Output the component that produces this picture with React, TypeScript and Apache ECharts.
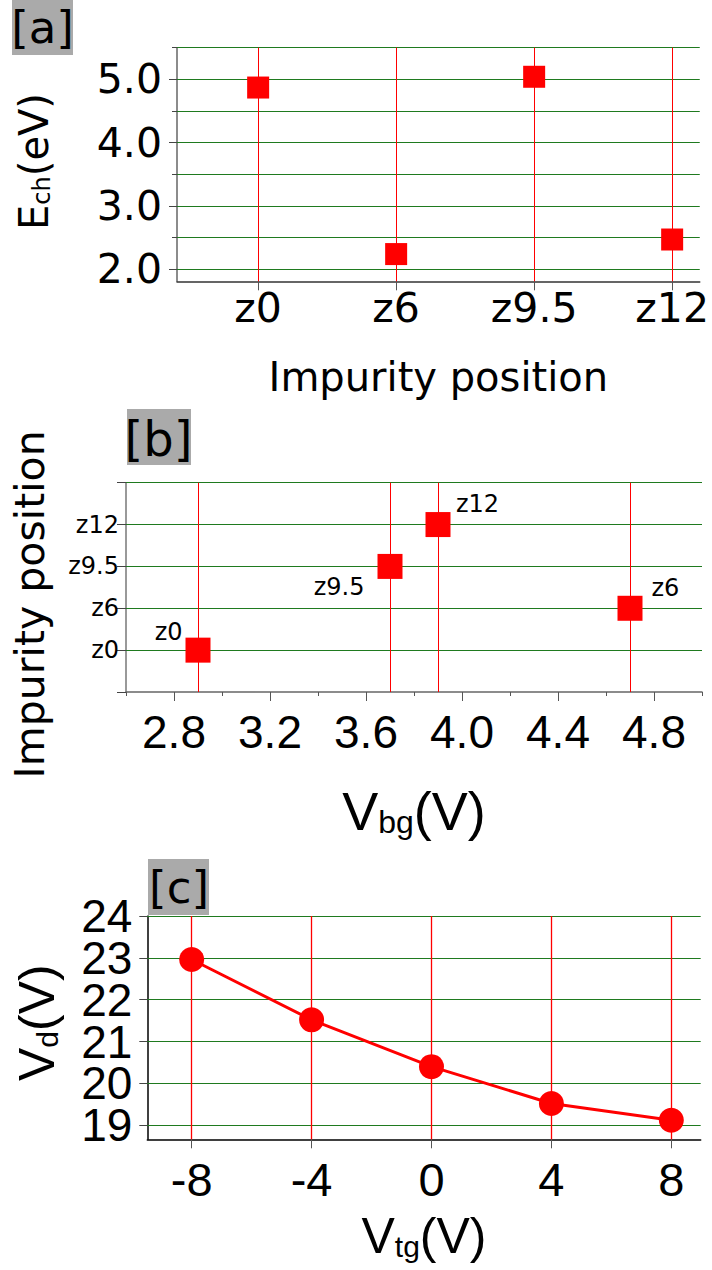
import React, { useEffect, useRef } from 'react';
import * as echarts from 'echarts';

// ---------- data ----------
const positionsA = ['z0', 'z6', 'z9.5', 'z12'];
const energyA = [4.87, 2.24, 5.04, 2.47];
const yTicksA = [2, 3, 4, 5];
const yMinorA = [2.5, 3.5, 4.5, 5.5];

const vbgB = [2.9, 3.7, 3.9, 4.7];
const posLabelB = ['z0', 'z9.5', 'z12', 'z6'];
const xTicksB = [2.8, 3.2, 3.6, 4.0, 4.4, 4.8];
const xMinorB = [2.6, 3.0, 3.4, 3.8, 4.2, 4.6, 5.0];
const yTicksB = [-1, 0, 1, 2, 3, 4];

const vtgC = [-8, -4, 0, 4, 8];
const vdC = [22.96, 21.52, 20.4, 19.52, 19.12];
const yTicksC = [19, 20, 21, 22, 23, 24];

// axis ranges
const xRangeC: [number, number] = [-9.48, 8.98];
const yRangeC: [number, number] = [18.665, 24];

// ---------- styles ----------
const DV = 'DejaVu Sans';
const LS = 'Liberation Sans';
const RED = '#ff0000';
const GREEN = '#1f7a1f';

const labelPlaceB: Record<string, any> = {
  'z0': { position: 'left', distance: 3, offset: [0, -18] },
  'z9.5': { position: 'left', distance: 13, offset: [0, 21] },
  'z12': { position: 'right', distance: 5.5, offset: [0, -21] },
  'z6': { position: 'right', distance: 9, offset: [0, -20] },
};

function gridLines(xi: number, yi: number, hVals: number[], vVals: number[], z = 1, vWidth = 1) {
  return {
    type: 'line',
    xAxisIndex: xi,
    yAxisIndex: yi,
    data: [],
    z,
    silent: true,
    markLine: {
      z,
      silent: true,
      symbol: ['none', 'none'],
      label: { show: false },
      emphasis: { disabled: true },
      data: [
        ...hVals.map((v) => ({ yAxis: v, lineStyle: { color: GREEN, width: 1, type: 'solid' } })),
        ...vVals.map((v) => ({ xAxis: v, lineStyle: { color: RED, width: vWidth, type: 'solid' } })),
      ],
    },
  };
}

function axisLine(color: string) {
  return { show: true, onZero: false, lineStyle: { color, width: 1.5 } };
}
const noLine = { show: false, onZero: false };

function yLabelsC(values: number[]) {
  return {
    gridIndex: 2, type: 'value', min: yRangeC[0], max: yRangeC[1], position: 'left',
    axisLine: noLine,
    axisTick: { show: false },
    axisLabel: {
      customValues: values, formatter: (v: number) => String(v),
      fontFamily: LS, fontSize: 46, color: '#000', margin: 15,
      showMinLabel: true, showMaxLabel: true, hideOverlap: false,
    },
    splitLine: { show: false },
  };
}

export default function App() {
  const ref = useRef<HTMLDivElement>(null);
  useEffect(() => {
    if (!ref.current) return;
    const chart = echarts.init(ref.current, undefined, { renderer: 'svg' });
    const option: any = {
      animation: false,
      backgroundColor: '#ffffff',
      grid: [
        { left: 177, top: 47.65, width: 528, height: 233.65 },
        { left: 126, top: 482.7, width: 576, height: 209.3 },
        { left: 147.3, top: 916, width: 553.4, height: 223.3 },
      ],
      xAxis: [
        {
          gridIndex: 0, type: 'value', min: -0.588, max: 3.2, position: 'bottom',
          axisLine: axisLine('#333'),
          axisTick: { show: true, customValues: [0, 1, 2, 3], length: 9, lineStyle: { color: '#555' } },
          axisLabel: {
            customValues: [0, 1, 2, 3], formatter: (v: number) => positionsA[Math.round(v)],
            fontFamily: DV, fontSize: 41, color: '#000', margin: 6,
            showMinLabel: true, showMaxLabel: true, hideOverlap: false,
          },
          splitLine: { show: false },
          name: 'Impurity position', nameLocation: 'middle', nameGap: 76,
          nameTextStyle: { fontFamily: DV, fontSize: 40, color: '#000', lineHeight: 40 },
        },
        {
          gridIndex: 1, type: 'value', min: 2.6, max: 5.0, position: 'bottom',
          axisLine: axisLine('#666'),
          axisTick: { show: true, customValues: xTicksB, length: 9, lineStyle: { color: '#555' } },
          axisLabel: {
            customValues: xTicksB, formatter: (v: number) => v.toFixed(1),
            fontFamily: LS, fontSize: 46, color: '#000', margin: 17,
            showMinLabel: true, showMaxLabel: true, hideOverlap: false,
          },
          splitLine: { show: false },
          name: '{m|V}{s|bg}{m|(V)}', nameLocation: 'middle', nameGap: 92,
          nameTextStyle: {
            rich: {
              m: { fontFamily: LS, fontSize: 54, lineHeight: 54, color: '#000', verticalAlign: 'top' },
              s: { fontFamily: LS, fontSize: 32, lineHeight: 32, color: '#000', verticalAlign: 'bottom' },
            },
          },
        },
        {
          gridIndex: 1, type: 'value', min: 2.6, max: 5.0, position: 'bottom',
          axisLine: noLine,
          axisTick: { show: true, customValues: xMinorB, length: 4, lineStyle: { color: '#555' } },
          axisLabel: { show: false },
          splitLine: { show: false },
        },
        {
          gridIndex: 2, type: 'value', min: xRangeC[0], max: xRangeC[1], position: 'bottom',
          axisLine: axisLine('#000'),
          axisTick: { show: false },
          axisLabel: {
            customValues: vtgC, formatter: (v: number) => String(v),
            fontFamily: LS, fontSize: 47, color: '#000', margin: 17,
            showMinLabel: true, showMaxLabel: true, hideOverlap: false,
          },
          splitLine: { show: false },
          name: '{m|V}{s|tg}{m|(V)}', nameLocation: 'middle', nameGap: 72,
          nameTextStyle: {
            rich: {
              m: { fontFamily: LS, fontSize: 50, lineHeight: 50, color: '#000', verticalAlign: 'top' },
              s: { fontFamily: LS, fontSize: 30, lineHeight: 30, color: '#000', verticalAlign: 'bottom' },
            },
          },
        },
        {
          gridIndex: 2, type: 'value', min: xRangeC[0], max: xRangeC[1], position: 'bottom',
          axisLine: noLine,
          axisTick: { show: true, customValues: vtgC, length: 9, lineStyle: { color: '#555' } },
          axisLabel: { show: false },
          splitLine: { show: false },
        },
      ],
      yAxis: [
        {
          gridIndex: 0, type: 'value', min: 1.81, max: 5.5, position: 'left',
          axisLine: axisLine('#666'),
          axisTick: { show: true, customValues: yTicksA, length: 8, lineStyle: { color: '#444' } },
          axisLabel: {
            customValues: yTicksA, formatter: (v: number) => v.toFixed(1),
            fontFamily: DV, fontSize: 41, color: '#000', margin: 15,
            showMinLabel: true, showMaxLabel: true, hideOverlap: false,
          },
          splitLine: { show: false },
          name: '{m|E}{s|ch}{m|(eV)}', nameLocation: 'middle', nameGap: 123, nameRotate: 90,
          nameTextStyle: {
            padding: [0, 0, 0, 6],
            rich: {
              m: { fontFamily: DV, fontSize: 40, lineHeight: 40, color: '#000', verticalAlign: 'top' },
              s: { fontFamily: DV, fontSize: 24, lineHeight: 24, color: '#000', verticalAlign: 'bottom', padding: [22, 0, 0, 0] },
            },
          },
        },
        {
          gridIndex: 0, type: 'value', min: 1.81, max: 5.5, position: 'left',
          axisLine: noLine,
          axisTick: { show: true, customValues: yMinorA, length: 5, lineStyle: { color: '#444' } },
          axisLabel: { show: false },
          splitLine: { show: false },
        },
        {
          gridIndex: 1, type: 'value', min: -1, max: 4, position: 'left',
          axisLine: axisLine('#777'),
          axisTick: { show: true, customValues: yTicksB, length: 9, lineStyle: { color: '#444' } },
          axisLabel: {
            customValues: [0, 1, 2, 3], formatter: (v: number) => positionsA[Math.round(v)],
            fontFamily: DV, fontSize: 24, color: '#000', margin: 7,
            showMinLabel: true, showMaxLabel: true, hideOverlap: false,
          },
          splitLine: { show: false },
          name: 'Impurity position', nameLocation: 'middle', nameGap: 76, nameRotate: 90,
          nameTextStyle: { fontFamily: DV, fontSize: 41, lineHeight: 41, color: '#000', padding: [0, 34, 0, 0] },
        },
        {
          gridIndex: 2, type: 'value', min: yRangeC[0], max: yRangeC[1], position: 'left',
          axisLine: axisLine('#000'),
          axisTick: { show: true, customValues: yTicksC, length: 8, lineStyle: { color: '#444' } },
          axisLabel: { show: false },
          splitLine: { show: false },
          name: '{m|V}{s|d}{m|(V)}', nameLocation: 'middle', nameGap: 85, nameRotate: 90,
          nameTextStyle: {
            padding: [0, 0, 0, 10],
            rich: {
              m: { fontFamily: LS, fontSize: 50, lineHeight: 50, color: '#000', verticalAlign: 'top' },
              s: { fontFamily: LS, fontSize: 30, lineHeight: 30, color: '#000', verticalAlign: 'bottom' },
            },
          },
        },
        yLabelsC(yTicksC.filter((_, i) => i % 2 === 0)),
        yLabelsC(yTicksC.filter((_, i) => i % 2 === 1)),
      ],
      series: [
        gridLines(0, 0, [...yTicksA, ...yMinorA], [0, 1, 2, 3]),
        {
          type: 'scatter', xAxisIndex: 0, yAxisIndex: 0, z: 3,
          symbol: 'rect', symbolSize: 22,
          itemStyle: { color: RED, opacity: 1 },
          data: energyA.map((e, i) => [i, e]),
        },
        gridLines(1, 2, [0, 1, 2, 3, 4], vbgB),
        {
          type: 'scatter', xAxisIndex: 1, yAxisIndex: 2, z: 3,
          symbol: 'rect', symbolSize: 25,
          itemStyle: { color: RED, opacity: 1 },
          data: vbgB.map((x, i) => ({
            value: [x, positionsA.indexOf(posLabelB[i])],
            label: {
              show: true,
              formatter: posLabelB[i],
              fontFamily: DV, fontSize: 24, color: '#000',
              ...labelPlaceB[posLabelB[i]],
            },
          })),
        },
        gridLines(3, 3, yTicksC, []),
        {
          type: 'line', xAxisIndex: 3, yAxisIndex: 3, z: 3,
          symbol: 'circle', symbolSize: 25,
          lineStyle: { color: RED, width: 3 },
          itemStyle: { color: RED, opacity: 1 },
          data: vtgC.map((x, i) => [x, vdC[i]]),
        },
        gridLines(3, 3, [], vtgC, 10, 1.3),
      ],
      graphic: [
        { type: 'rect', shape: { x: 12, y: 0, width: 61, height: 55 }, style: { fill: '#aaaaaa' } },
        { type: 'text', x: 42.5, y: 27.5, style: { text: '[a]', fontFamily: DV, fontSize: 45, fill: '#000', align: 'center', verticalAlign: 'middle' } },
        { type: 'rect', shape: { x: 127, y: 409, width: 64, height: 56 }, style: { fill: '#aaaaaa' } },
        { type: 'text', x: 158.5, y: 439, style: { text: '[b]', fontFamily: DV, fontSize: 48, fill: '#000', align: 'center', verticalAlign: 'middle' } },
        { type: 'rect', shape: { x: 148, y: 859, width: 61, height: 56 }, style: { fill: '#aaaaaa' } },
        { type: 'text', x: 179, y: 887.5, style: { text: '[c]', fontFamily: DV, fontSize: 45, fill: '#000', align: 'center', verticalAlign: 'middle' } },
      ],
    };
    chart.setOption(option);
    return () => chart.dispose();
  }, []);
  return (
    <div
      ref={ref}
      style={{ position: 'fixed', left: 0, top: 0, width: 712, height: 1270, background: '#fff' }}
    />
  );
}
